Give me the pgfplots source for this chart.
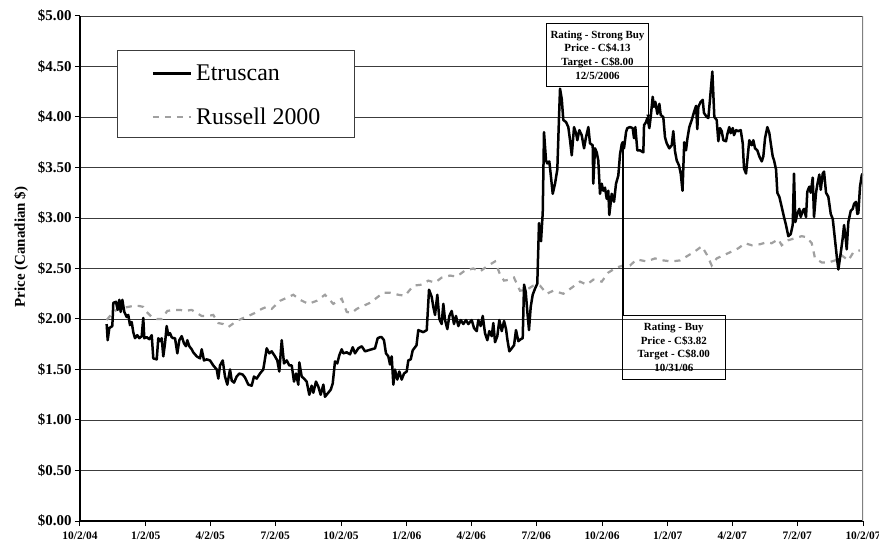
\documentclass[border=0pt]{standalone}
\usepackage{fontspec}
\setmainfont{Liberation Serif}
\usepackage{pgfplots}
\pgfplotsset{compat=1.18}
\usepackage{pgfplotstable}
\definecolor{russ}{RGB}{160,160,160}
\definecolor{gridc}{RGB}{60,60,60}

% day = days since 10/2/2004
\pgfplotstableread{
d v
37.3 1.95
38.7 1.79
41.0 1.91
45.2 1.93
46.6 2.16
50.3 2.17
52.7 2.09
55.0 2.19
56.9 2.07
59.2 2.19
62.0 2.07
65.3 2.02
67.5 2.04
69.9 1.94
72.3 1.97
74.5 1.87
76.9 1.81
80.1 1.84
82.9 1.81
86.3 1.83
88.5 2.01
89.9 1.81
93.3 1.82
96.9 1.80
100.3 1.84
102.5 1.61
107.3 1.60
109.5 1.81
111.9 1.78
114.3 1.81
116.5 1.63
118.9 1.76
121.2 1.93
123.5 1.84
125.9 1.86
128.2 1.82
130.5 1.81
132.9 1.81
136.1 1.66
138.9 1.79
142.2 1.83
145.4 1.76
148.2 1.73
150.1 1.79
152.9 1.73
156.2 1.70
158.4 1.67
163.2 1.63
167.8 1.61
170.2 1.70
173.4 1.59
177.2 1.60
181.8 1.59
186.4 1.54
191.2 1.50
193.4 1.41
195.8 1.54
199.6 1.59
202.8 1.43
206.0 1.35
209.8 1.50
212.2 1.39
215.4 1.37
219.1 1.43
222.8 1.46
227.5 1.45
230.8 1.42
235.4 1.35
240.1 1.34
243.3 1.43
247.1 1.41
251.7 1.46
256.3 1.50
261.1 1.71
264.7 1.66
268.1 1.68
272.7 1.63
275.9 1.59
278.7 1.48
282.1 1.79
285.3 1.56
289.1 1.59
292.7 1.54
296.1 1.54
299.3 1.38
302.1 1.46
305.3 1.35
306.7 1.57
310.0 1.43
313.3 1.41
317.0 1.38
320.7 1.25
324.0 1.34
326.3 1.27
330.0 1.38
333.3 1.33
336.6 1.25
340.3 1.35
342.6 1.23
347.2 1.27
350.6 1.30
353.4 1.36
356.6 1.58
359.8 1.56
362.6 1.64
366.0 1.70
368.2 1.66
373.0 1.67
377.6 1.65
381.4 1.72
384.6 1.66
389.2 1.71
394.0 1.73
398.6 1.68
403.2 1.69
407.9 1.70
412.6 1.71
416.3 1.81
419.6 1.82
421.9 1.82
425.1 1.79
427.9 1.66
431.2 1.63
433.5 1.55
435.9 1.63
438.2 1.35
440.5 1.50
443.7 1.40
446.5 1.48
449.9 1.40
453.1 1.46
456.9 1.48
459.1 1.59
462.5 1.60
465.3 1.69
468.5 1.72
470.6 1.74
473.1 1.89
476.5 1.88
480.1 1.87
484.9 1.89
488.1 2.29
491.8 2.22
494.1 2.12
496.5 2.04
499.7 2.24
502.5 2.00
505.8 1.95
508.1 2.15
510.5 1.99
513.7 1.90
516.5 2.03
519.8 2.08
523.0 1.95
525.8 2.03
529.1 1.93
532.4 1.99
536.1 1.95
539.8 1.99
543.0 1.95
547.8 1.99
551.0 1.91
554.8 1.88
557.0 1.99
560.4 1.93
563.2 2.03
566.4 1.86
569.6 1.79
572.4 1.88
575.8 1.83
578.0 1.96
580.4 1.77
583.6 1.83
586.4 1.99
589.8 1.88
593.0 1.98
595.8 1.90
597.6 1.80
600.4 1.68
603.8 1.71
607.0 1.74
609.7 1.89
613.0 1.78
616.3 1.80
619.1 1.81
621.0 2.34
623.3 2.27
625.6 2.07
627.9 1.89
630.3 2.12
633.1 2.24
636.3 2.30
639.5 2.35
641.9 2.95
644.7 2.77
647.1 3.05
648.9 3.85
651.7 3.57
653.5 3.54
656.3 3.56
658.3 3.43
661.1 3.24
664.3 3.34
667.5 3.48
669.9 4.00
671.3 4.28
673.7 4.18
675.9 3.97
679.7 3.95
682.9 3.90
685.3 3.77
687.7 3.62
690.9 3.90
693.7 3.84
695.5 3.77
698.3 3.87
701.6 3.82
704.9 3.69
707.6 3.80
710.9 3.90
713.2 3.74
717.0 3.72
717.8 3.34
720.2 3.69
722.6 3.65
724.8 3.57
727.2 3.24
729.6 3.34
731.8 3.27
734.2 3.30
736.6 3.19
738.8 3.27
740.2 3.03
743.6 3.24
746.8 3.16
749.6 3.34
752.8 3.42
755.2 3.63
757.6 3.73
759.0 3.75
760.8 3.69
763.6 3.85
765.4 3.89
769.2 3.90
772.9 3.89
774.8 3.79
776.6 3.90
779.4 3.67
783.1 3.67
787.8 3.65
788.8 3.92
791.6 3.95
793.4 3.99
796.2 3.89
798.1 4.00
800.9 4.20
802.7 4.10
804.6 4.15
807.4 4.03
810.2 4.13
812.1 4.02
815.7 4.00
818.1 3.80
820.5 3.74
824.1 3.69
827.5 3.72
829.7 3.86
832.1 3.66
834.5 3.57
837.7 3.52
840.1 3.44
842.6 3.27
845.0 3.75
847.5 3.67
849.3 3.78
852.1 3.90
855.5 3.97
858.7 4.05
861.5 4.11
863.3 3.88
864.7 4.10
868.0 4.15
870.8 4.17
872.6 4.04
876.4 4.00
878.7 3.99
881.1 4.18
884.3 4.45
887.1 4.00
890.4 3.97
892.7 3.76
895.0 3.89
897.4 3.86
899.7 3.77
903.4 3.76
905.3 3.83
908.0 3.90
910.0 3.84
912.8 3.89
914.6 3.82
917.4 3.87
920.6 3.86
924.0 3.87
926.8 3.74
928.6 3.49
931.4 3.44
933.2 3.57
936.0 3.77
939.4 3.72
941.6 3.77
944.0 3.69
947.2 3.67
950.0 3.61
953.4 3.56
955.6 3.61
958.0 3.79
961.2 3.90
964.0 3.84
966.0 3.74
968.7 3.61
970.6 3.57
973.4 3.48
975.2 3.25
978.0 3.21
981.3 3.11
984.5 3.01
987.3 2.93
990.6 2.82
993.9 2.84
996.7 2.93
998.5 3.44
1000.4 2.96
1003.1 3.04
1005.9 3.09
1007.9 3.01
1010.7 3.07
1012.5 3.09
1015.3 3.01
1017.1 3.26
1019.9 3.31
1021.9 3.25
1024.7 3.40
1026.5 3.01
1029.3 3.25
1031.1 3.33
1033.9 3.43
1035.9 3.28
1038.7 3.44
1040.5 3.46
1043.3 3.25
1046.5 3.21
1049.9 3.04
1052.7 2.99
1055.9 2.78
1058.3 2.62
1060.5 2.49
1063.8 2.65
1066.6 2.80
1068.5 2.93
1070.8 2.80
1072.2 2.69
1074.5 2.96
1077.8 3.07
1080.6 3.09
1082.5 3.14
1085.2 3.16
1087.1 3.04
1088.5 3.05
1090.8 3.31
1093.2 3.42
1094.6 3.44
}\etr

\pgfplotstableread{
d v
37.3 1.99
42.0 2.03
46.6 2.07
53.6 2.10
60.6 2.11
67.5 2.12
74.5 2.13
81.5 2.13
88.5 2.12
93.3 2.07
100.3 2.02
107.3 2.00
114.3 2.00
122.1 2.08
130.5 2.09
139.9 2.09
146.8 2.08
156.2 2.09
160.8 2.07
170.2 2.03
179.4 2.03
186.4 2.04
193.4 1.96
200.4 1.95
207.4 1.92
219.1 1.98
228.4 2.01
235.4 2.03
244.7 2.06
254.1 2.10
261.1 2.12
268.1 2.10
279.7 2.18
289.1 2.21
298.3 2.24
307.7 2.19
319.3 2.15
331.0 2.18
342.6 2.24
354.2 2.15
366.0 2.20
373.0 2.07
380.0 2.06
387.0 2.10
396.2 2.13
405.6 2.16
414.9 2.21
424.2 2.26
433.5 2.26
445.1 2.24
454.5 2.23
466.1 2.33
477.9 2.34
487.1 2.38
496.5 2.36
505.8 2.41
517.4 2.43
526.8 2.42
538.4 2.48
550.0 2.50
559.4 2.47
568.8 2.52
580.4 2.57
587.4 2.44
593.0 2.38
601.4 2.39
606.9 2.41
615.3 2.28
624.7 2.29
633.9 2.33
643.3 2.33
652.7 2.25
661.9 2.28
675.9 2.25
687.7 2.31
699.3 2.37
708.6 2.34
717.9 2.39
729.6 2.37
738.8 2.46
750.6 2.51
759.8 2.53
769.2 2.53
778.5 2.59
792.5 2.57
804.1 2.60
815.7 2.58
827.5 2.57
839.1 2.58
848.5 2.62
860.1 2.67
869.5 2.72
876.4 2.64
883.4 2.53
890.4 2.60
899.7 2.63
909.0 2.66
920.6 2.70
930.0 2.75
939.4 2.73
951.0 2.74
960.3 2.76
967.3 2.75
976.6 2.79
981.3 2.73
990.6 2.78
999.9 2.80
1009.3 2.82
1016.3 2.81
1023.3 2.75
1027.9 2.60
1037.3 2.56
1046.5 2.56
1055.9 2.58
1065.2 2.63
1074.5 2.58
1081.5 2.66
1090.8 2.68
}\rus

\begin{document}
\begin{tikzpicture}
\begin{axis}[
  at={(0,0)}, anchor=south west,
  scale only axis, width=783bp, height=505bp,
  xmin=0, xmax=1095, ymin=0, ymax=5,
  axis x line*=bottom, axis y line*=left,
  axis line style={black, line width=1.2bp},
  xtick={0,92,182,273,365,457,547,638,730,822,912,1003,1095},
  xticklabels={10/2/04,1/2/05,4/2/05,7/2/05,10/2/05,1/2/06,4/2/06,7/2/06,10/2/06,1/2/07,4/2/07,7/2/07,10/2/07},
  ytick={0,0.5,1,1.5,2,2.5,3,3.5,4,4.5,5},
  yticklabels={\$0.00,\$0.50,\$1.00,\$1.50,\$2.00,\$2.50,\$3.00,\$3.50,\$4.00,\$4.50,\$5.00},
  ymajorgrids, major grid style={gridc, line width=0.9bp},
  tick align=outside, major tick length=5bp,
  tick style={black, line width=1bp},
  x tick label style={font=\fontsize{11.5}{13}\selectfont\bfseries, yshift=-2bp},
  y tick label style={font=\fontsize{15}{18}\selectfont\bfseries},
  legend style={at={(rel axis cs:0.0476,0.9327)}, anchor=north west,
    draw=gridc, line width=0.8bp, fill=white,
    inner xsep=34bp, inner ysep=11bp, row sep=23bp,
    font=\fontsize{24}{28}\selectfont,
    nodes={inner sep=0pt, text height=19bp, text depth=2bp}},
  legend cell align=left,
  legend image code/.code={\draw[#1] (0bp,-1.5bp) -- (38bp,-1.5bp); \path (42bp,-1.5bp);},
  reverse legend,
]
\addplot[draw=russ, line width=2.2bp, dash pattern=on 6bp off 6bp] table[x=d,y=v] {\rus};
\addlegendentry{Russell 2000}
\addplot[black, line width=2.5bp, line join=round] table[x=d,y=v] {\etr};
\addlegendentry{Etruscan}

\draw[gray, line width=1.2bp] (rel axis cs:1,0) -- (rel axis cs:1,1);

\draw[black, line width=1.6bp] (axis cs:759,3.73) -- (axis cs:759,2.03);
\draw[black, line width=0.9bp, -latex] (axis cs:794.8,4.30) -- (axis cs:794.8,3.97);

\node[draw=black, line width=0.8bp, align=center, inner sep=0pt,
  font=\fontsize{11}{13.8}\selectfont\bfseries,
  minimum width=101.6bp, minimum height=63.4bp] at (axis cs:723.7,4.614)
  {Rating - Strong Buy\\Price - C\$4.13\\Target - C\$8.00\\12/5/2006};
\node[draw=black, line width=0.8bp, align=center, inner sep=0pt,
  font=\fontsize{11}{13.8}\selectfont\bfseries,
  minimum width=102.3bp, minimum height=63.3bp] at (axis cs:830.4,1.72)
  {Rating - Buy\\Price - C\$3.82\\Target - C\$8.00\\10/31/06};
\end{axis}
\node[rotate=90, font=\fontsize{15}{18}\selectfont\bfseries] at (-59bp,274bp) {Price (Canadian \$)};
\pgfresetboundingbox
\path[use as bounding box] (-80bp,-23bp) rectangle (799bp,521bp);
\end{tikzpicture}
\end{document}
